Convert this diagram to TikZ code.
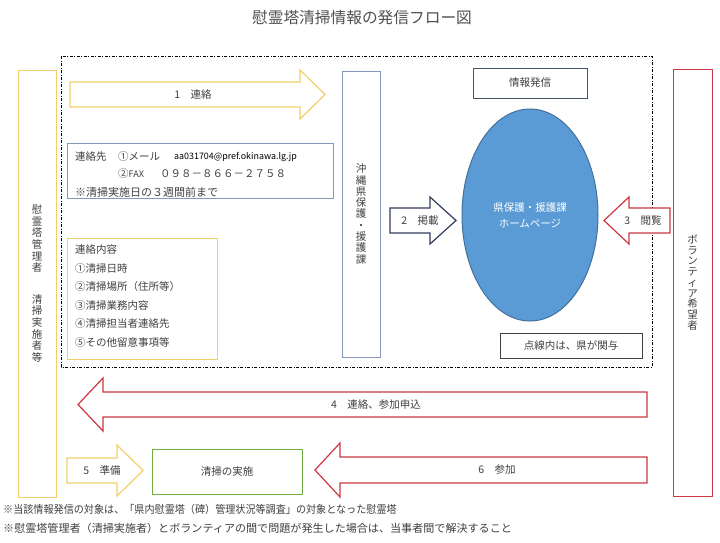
\documentclass[tikz,border=0pt]{standalone}
\usepackage{graphicx}
\usepackage{fontspec}
\setmainfont{Noto Sans CJK JP}
\usetikzlibrary{shapes.geometric}
\definecolor{txt}{RGB}{64,64,64}
\definecolor{titlec}{RGB}{80,80,80}
\definecolor{ylw}{RGB}{242,208,105}
\definecolor{bgray}{RGB}{132,151,186}
\definecolor{dkbox}{RGB}{68,84,106}
\definecolor{dkgray}{RGB}{64,64,64}
\definecolor{arrdk}{RGB}{50,60,90}
\definecolor{redl}{RGB}{205,55,65}
\definecolor{grn}{RGB}{112,173,71}
\definecolor{ellf}{RGB}{91,155,213}
\definecolor{elld}{RGB}{65,113,156}
\newcommand{\jfs}[1]{\fontsize{#1}{#1}\selectfont}
\newcommand{\jfv}[2]{\fontsize{#1}{#2}\selectfont}
\begin{document}
\begin{tikzpicture}[x=1pt,y=-1pt,
  every node/.style={inner sep=0pt, text=txt, font=\jfs{10.5}},
  boxshape/.style={draw, line width=1pt, rectangle},
  blk/.style={line width=1.2pt, fill=white, line join=miter},
  lbl/.style={anchor=center},
  ln/.style={anchor=west},
  dashdot/.style={line width=1pt, dash pattern=on 3pt off 1.5pt on 1pt off 1.5pt}]
\useasboundingbox (0,0) rectangle (720,542);
\fill[white] (0,0) rectangle (720,542);

% title
\node[font=\jfs{15.7}, text=titlec] (title) at (362,18) {慰霊塔清掃情報の発信フロー図};

% dash-dot region
\draw[dashdot] (61,56) rectangle (652,367);

% side boxes with vertical text
\node[boxshape, draw=ylw, minimum width=38pt, minimum height=427pt, align=center, font=\jfv{10.5}{11.6}] (mgr) at (37,283.5)
  {慰\\霊\\塔\\管\\理\\者\\[20pt]清\\掃\\実\\施\\者\\等};
\node[boxshape, draw=bgray, minimum width=38pt, minimum height=286pt, align=center, font=\jfv{10.5}{11.3}] (pref) at (361,214)
  {沖\\縄\\県\\保\\護\\・\\援\\護\\課};
\node[boxshape, draw=redl, minimum width=39pt, minimum height=427pt, align=center, font=\jfv{10.5}{10.7}] (vol) at (692.5,282.5)
  {ボ\\ラ\\ン\\テ\\ィ\\ア\\希\\望\\者};

% contact box
\node[boxshape, draw=bgray, minimum width=266pt, minimum height=55pt] (contact) at (200,170.5) {};
\node[ln] (c1) at (75,157) {連絡先};
\node[ln] (c2) at (118,157) {①メール};
\node[ln, font=\jfs{8.9}, text=black] (c3) at (174,157) {aa031704@pref.okinawa.lg.jp};
\node[ln] (c4) at (118,174) {②{\jfs{9}FAX}};
\node[ln] (c5) at (160,174) {０９８－８６６－２７５８};
\node[ln, font=\jfs{11}] (c6) at (75,192) {※清掃実施日の３週間前まで};

% contents box
\node[boxshape, draw=ylw, minimum width=150pt, minimum height=121pt] (contents) at (142,298.5) {};
\node[ln] (k0) at (75,250) {連絡内容};
\node[ln] (k1) at (75,268.5) {①清掃日時};
\node[ln] (k2) at (75,287) {②清掃場所（住所等）};
\node[ln] (k3) at (75,305.5) {③清掃業務内容};
\node[ln] (k4) at (75,324) {④清掃担当者連絡先};
\node[ln] (k5) at (75,342.5) {⑤その他留意事項等};

% info boxes
\node[boxshape, draw=dkbox, minimum width=114pt, minimum height=30pt] (info) at (530,83) {情報発信};
\node[boxshape, draw=dkgray, minimum width=142pt, minimum height=25pt] (note) at (571,345.5) {点線内は、県が関与};
\node[boxshape, draw=grn, minimum width=150pt, minimum height=45pt] (clean) at (227,471.5) {清掃の実施};

% ellipse
\node[ellipse, draw=elld, fill=ellf, line width=1pt, minimum width=136pt, minimum height=212pt] (hp) at (530,215) {};
\node[align=center, text=white, font=\jfv{10.5}{16}] (hpt) at (530,215) {県保護・援護課\\ホームページ};

% block arrows
\draw[blk, draw=ylw] (70,82) -- (300,82) -- (300,70) -- (325,94.5) -- (300,119) -- (300,107) -- (70,107) -- cycle;
\node[lbl] (a1) at (193,94.5) {1　連絡};

\draw[blk, draw=arrdk] (390,208) -- (430,208) -- (430,197) -- (456,220.5) -- (430,244) -- (430,233) -- (390,233) -- cycle;
\node[lbl] (a2) at (420,220.5) {2　掲載};

\draw[blk, draw=redl] (670,208) -- (629,208) -- (629,197) -- (604,220.5) -- (629,244) -- (629,233) -- (670,233) -- cycle;
\node[lbl] (a3) at (643,220.5) {3　閲覧};

\draw[blk, draw=redl] (647,392) -- (103,392) -- (103,378) -- (78,404.5) -- (103,431) -- (103,417) -- (647,417) -- cycle;
\node[lbl] (a4) at (376,404.5) {4　連絡、参加申込};

\draw[blk, draw=ylw] (67,458) -- (117,458) -- (117,445) -- (143,470.5) -- (117,496) -- (117,483) -- (67,483) -- cycle;
\node[lbl] (a5) at (102,470.5) {5　準備};

\draw[blk, draw=redl] (647,457) -- (340,457) -- (340,443) -- (315,470) -- (340,497) -- (340,483) -- (647,483) -- cycle;
\node[lbl] (a6) at (497,470) {6　参加};

% footnotes
\node[ln, font=\jfs{10.8}] (f1) at (3,509) {\scalebox{0.935}[1]{※当該情報発信の対象は、「県内慰霊塔（碑）管理状況等調査」の対象となった慰霊塔}};
\node[ln, font=\jfs{10.9}] (f2) at (3,528) {\scalebox{1.016}[1]{※慰霊塔管理者（清掃実施者）とボランティアの間で問題が発生した場合は、当事者間で解決すること}};
\end{tikzpicture}
\end{document}
